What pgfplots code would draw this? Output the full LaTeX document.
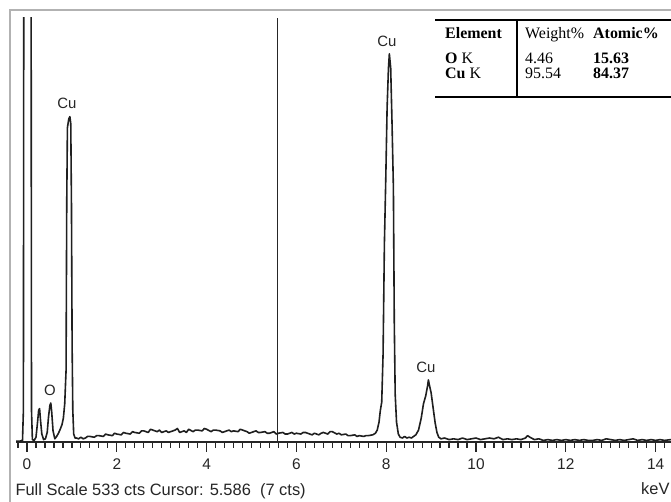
\documentclass[border=0pt]{standalone}
\usepackage{fontspec}
\setmainfont{Liberation Sans}
\newfontfamily\tnr{Liberation Serif}
\usepackage{pgfplots}
\usepackage{pgfplotstable}
\pgfplotsset{compat=1.18}

% EDS spectrum, counts read off the screen capture
\pgfplotstableread{
kev cts
-0.24 1
-0.16 1
-0.10 2
-0.08 40
-0.07 700
0.09 700
0.10 40
0.12 3
0.16 2
0.20 6
0.23 22
0.26 40
0.28 42
0.30 28
0.33 10
0.37 3
0.41 4
0.45 12
0.48 32
0.51 46
0.53 49
0.55 38
0.58 14
0.62 4
0.66 7
0.70 11
0.74 16
0.78 22
0.81 30
0.84 48
0.87 90
0.885 300
0.90 395
0.93 406
0.955 409
0.975 400
0.99 300
1.005 120
1.02 40
1.04 10
1.07 5
1.10 5
1.15 4
1.20 6
1.25 4
1.30 5
1.35 7
1.40 7
1.50 6
1.55 8
1.60 8
1.70 7
1.75 10
1.80 9
1.90 8
1.95 11
2.00 10
2.10 9
2.15 12
2.20 11
2.30 10
2.35 13
2.40 12
2.50 11
2.55 14
2.60 14
2.70 12
2.75 16
2.80 15
2.90 13
2.95 15
3.00 12
3.10 14
3.15 12
3.20 13
3.30 15
3.35 17
3.40 12
3.50 14
3.55 12
3.60 16
3.70 13
3.75 15
3.80 15
3.90 14
3.95 17
4.00 16
4.10 13
4.15 15
4.20 15
4.30 14
4.35 12
4.40 13
4.50 15
4.55 13
4.60 14
4.70 13
4.75 16
4.80 15
4.90 13
4.95 11
5.00 12
5.10 14
5.15 12
5.20 12
5.30 13
5.35 11
5.40 11
5.50 13
5.55 10
5.60 11
5.70 12
5.75 10
5.80 10
5.90 12
5.95 10
6.00 11
6.10 10
6.15 12
6.20 12
6.30 10
6.35 9
6.40 11
6.50 9
6.55 11
6.60 12
6.70 10
6.75 13
6.80 13
6.90 10
6.95 11
7.00 9
7.10 10
7.15 8
7.20 8
7.30 9
7.35 7
7.40 8
7.50 7
7.55 8
7.60 8
7.70 9
7.76 11
7.80 15
7.84 25
7.87 40
7.90 50
7.93 110
7.96 250
7.99 330
8.02 420
8.05 470
8.07 488
8.10 470
8.13 400
8.16 320
8.18 150
8.20 60
8.23 25
8.27 10
8.31 6
8.36 5
8.41 7
8.46 5
8.51 6
8.56 5
8.61 7
8.66 9
8.72 15
8.78 30
8.83 48
8.88 58
8.92 70
8.94 78
8.96 72
9.00 62
9.04 45
9.09 24
9.13 12
9.17 6
9.22 4
9.30 5
9.40 3
9.50 4
9.60 3
9.70 5
9.80 3
9.90 4
10.0 5
10.1 3
10.2 4
10.3 5
10.4 4
10.5 6
10.6 3
10.7 4
10.8 3
10.9 4
11.0 3
11.1 5
11.15 8
11.2 6
11.3 3
11.4 4
11.5 2
11.6 3
11.7 2
11.8 3
11.9 2
12.0 3
12.1 2
12.2 3
12.3 2
12.4 3
12.5 2
12.6 2
12.7 3
12.8 2
12.9 4
13.0 3
13.1 2
13.2 3
13.3 2
13.4 3
13.5 4
13.6 2
13.7 3
13.8 2
13.9 3
14.0 2
14.1 3
14.2 2
14.34 3
}\spectrum

\begin{document}
\begin{tikzpicture}[x=1bp,y=1bp]
\fill[white] (0,0) rectangle (671,502);
\useasboundingbox (0,0) rectangle (671,502);
\draw[black!30, line width=1.2bp] (10,0) -- (10,492) -- (671,492);

\begin{axis}[
    at={(16bp,60bp)}, anchor=south west,
    scale only axis, width=655bp, height=424bp,
    xmin=-0.245, xmax=14.343, ymin=0, ymax=533,
    axis x line*=bottom, axis y line=none,
    axis line style={black!85, line width=1.4bp},
    xtick={0,2,...,14},
    minor xtick={-0.2,0,...,14.2},
    tick align=outside,
    major tick length=10bp, minor tick length=6bp,
    every tick/.style={black!85, line width=1.2bp},
    /pgf/number format/assume math mode=true,
    xticklabel style={font=\fontsize{15.5}{16}\selectfont, text=black!85, yshift=-3bp},
    ytick=\empty,
]
\addplot[black!88, line width=1.6bp, line join=round] table[x=kev, y=cts] {\spectrum};
\addplot[black!85, line width=1.2bp] coordinates {(5.586,0) (5.586,533)};
\end{axis}

% peak labels
\begin{scope}[font=\fontsize{15}{16}\selectfont, text=black!85]
\node at (67,399) {Cu};
\node at (50,112) {O};
\node at (387,461) {Cu};
\node at (426,135) {Cu};
\node[anchor=base west, font=\fontsize{16.5}{17}\selectfont] at (12,6) {Full Scale 533 cts Cursor: 5.586\ \ (7 cts)};
\node[anchor=base west, inner sep=0, font=\fontsize{16.5}{17}\selectfont] at (641,7) {keV};
\end{scope}

% quantification table
\fill[white] (435,483) rectangle (671,405);
\draw[black, line width=2bp] (435,482) -- (671,482);
\draw[black, line width=2bp] (435,405) -- (671,405);
\draw[black, line width=1.1bp] (517,482) -- (517,405);
\begin{scope}[font=\tnr\fontsize{16}{17}\selectfont]
\node[anchor=base west, inner sep=0] at (445,463) {\bfseries Element};
\node[anchor=base west, inner sep=0] at (525,463) {Weight\%};
\node[anchor=base west, inner sep=0] at (593,463) {\bfseries Atomic\%};
\node[anchor=base west, inner sep=0] at (445,438) {\textbf{O} K};
\node[anchor=base west, inner sep=0] at (525,438) {4.46};
\node[anchor=base west, inner sep=0] at (593,438) {\bfseries 15.63};
\node[anchor=base west, inner sep=0] at (445,423) {\textbf{Cu} K};
\node[anchor=base west, inner sep=0] at (525,423) {95.54};
\node[anchor=base west, inner sep=0] at (593,423) {\bfseries 84.37};
\end{scope}
\end{tikzpicture}
\end{document}
